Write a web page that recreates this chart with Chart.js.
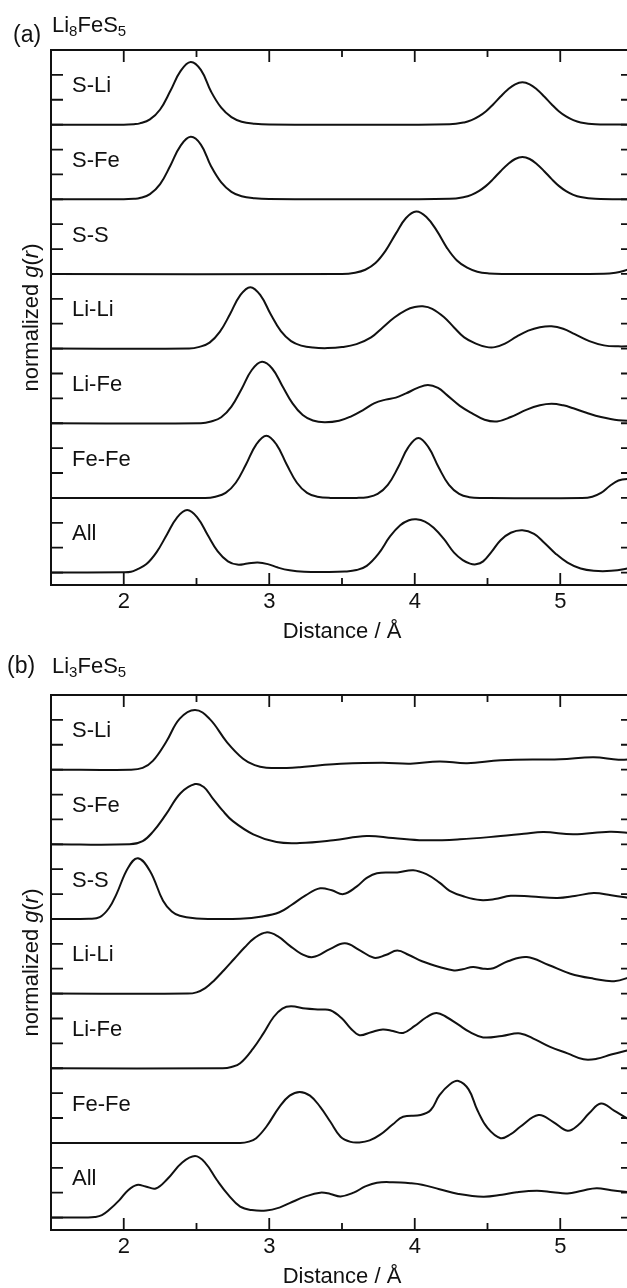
<!DOCTYPE html>
<html>
<head>
<meta charset="utf-8">
<script src="https://cdn.jsdelivr.net/npm/chart.js@4.4.1/dist/chart.umd.min.js"></script>
<style>
  html, body { margin: 0; padding: 0; background: #fff; overflow: hidden; }
  #wrap { position: relative; width: 627px; height: 1288px; overflow: hidden; }
  canvas { position: absolute; left: 0; }
  #chartA { top: 0; }
  #chartB { top: 645px; }
</style>
</head>
<body>
<div id="wrap">
  <canvas id="chartA" width="634" height="645"></canvas>
  <canvas id="chartB" width="634" height="645"></canvas>
</div>
<script>
const FONT = "'Liberation Sans', Arial, Helvetica, sans-serif";
const INK = "#111";

const pairNames = ["S-Li", "S-Fe", "S-S", "Li-Li", "Li-Fe", "Fe-Fe", "All"];
const offsets = [18, 15, 12, 9, 6, 3, 0];
const xTicks = [2, 3, 4, 5];
const xMinorTicks = [2.5, 3.5, 4.5];
const yTicks = [0, 1, 2, 3, 4, 5, 6, 7, 8, 9, 10, 11, 12, 13, 14, 15, 16, 17, 18, 19, 20];

/* (a) Li8FeS5 : [r, g(r)], each relative to its own baseline */
const aSLi = [[1.5,0],[2.0,0],[2.07,0.02],[2.11,0.05],[2.18,0.21],[2.25,0.61],[2.32,1.35],[2.39,2.15],[2.46,2.52],[2.53,2.2],[2.6,1.33],[2.67,0.68],[2.74,0.3],[2.81,0.12],[2.9,0.04],[3.0,0.01],[3.5,0],[4.24,0.02],[4.34,0.09],[4.39,0.18],[4.44,0.33],[4.49,0.54],[4.54,0.82],[4.59,1.13],[4.64,1.41],[4.69,1.62],[4.74,1.7],[4.79,1.62],[4.84,1.41],[4.89,1.13],[4.94,0.82],[4.99,0.54],[5.04,0.33],[5.09,0.18],[5.14,0.09],[5.24,0.02],[5.5,0]];
const aSFe = [[1.5,0],[2.0,0],[2.07,0.02],[2.11,0.05],[2.18,0.21],[2.25,0.61],[2.32,1.35],[2.39,2.15],[2.46,2.51],[2.53,2.2],[2.6,1.33],[2.67,0.68],[2.74,0.3],[2.81,0.12],[2.9,0.04],[3.0,0.01],[3.5,0],[4.24,0.02],[4.34,0.09],[4.39,0.18],[4.44,0.33],[4.49,0.54],[4.54,0.82],[4.59,1.13],[4.64,1.41],[4.69,1.62],[4.74,1.7],[4.79,1.62],[4.84,1.41],[4.89,1.13],[4.94,0.82],[4.99,0.54],[5.04,0.33],[5.09,0.18],[5.14,0.09],[5.24,0.02],[5.5,0]];
const aSS = [[1.5,0],[3.5,0],[3.59,0.05],[3.66,0.17],[3.73,0.44],[3.8,0.94],[3.87,1.62],[3.94,2.25],[4.01,2.51],[4.08,2.29],[4.15,1.75],[4.22,1.06],[4.29,0.54],[4.36,0.25],[4.43,0.09],[4.51,0.02],[4.6,0],[5.3,0.01],[5.38,0.05],[5.44,0.13],[5.5,0.25]];
const aLiLi = [[1.5,0],[2.45,0],[2.52,0.07],[2.59,0.24],[2.66,0.67],[2.73,1.38],[2.8,2.14],[2.87,2.47],[2.94,2.14],[3.01,1.38],[3.08,0.7],[3.15,0.3],[3.22,0.12],[3.3,0.04],[3.4,0.02],[3.5,0.06],[3.6,0.18],[3.7,0.45],[3.78,0.85],[3.86,1.25],[3.94,1.55],[4.0,1.67],[4.055,1.7],[4.12,1.6],[4.2,1.27],[4.27,0.85],[4.34,0.45],[4.42,0.2],[4.49,0.07],[4.55,0.06],[4.62,0.2],[4.7,0.48],[4.78,0.72],[4.86,0.86],[4.94,0.9],[5.02,0.8],[5.1,0.58],[5.2,0.3],[5.3,0.13],[5.4,0.09],[5.5,0.1]];
const aLiFe = [[1.5,0],[2.53,0],[2.6,0.07],[2.67,0.24],[2.74,0.67],[2.81,1.38],[2.88,2.14],[2.95,2.47],[3.02,2.2],[3.09,1.5],[3.16,0.8],[3.23,0.33],[3.3,0.11],[3.38,0.04],[3.48,0.1],[3.56,0.27],[3.65,0.55],[3.72,0.8],[3.8,0.95],[3.87,1.03],[3.94,1.2],[4.02,1.42],[4.09,1.54],[4.16,1.42],[4.22,1.14],[4.31,0.7],[4.4,0.38],[4.48,0.14],[4.565,0.07],[4.66,0.25],[4.77,0.55],[4.86,0.72],[4.94,0.78],[5.02,0.72],[5.09,0.6],[5.18,0.42],[5.28,0.25],[5.4,0.12],[5.5,0.1]];
const aFeFe = [[1.5,0],[2.56,0],[2.63,0.05],[2.7,0.2],[2.77,0.61],[2.84,1.34],[2.91,2.14],[2.98,2.5],[3.05,2.14],[3.12,1.34],[3.19,0.61],[3.26,0.2],[3.33,0.05],[3.42,0],[3.6,0],[3.675,0.03],[3.745,0.16],[3.815,0.52],[3.885,1.22],[3.955,2.03],[4.025,2.41],[4.095,2.03],[4.165,1.22],[4.235,0.52],[4.305,0.16],[4.375,0.03],[4.46,0],[5.15,0],[5.22,0.05],[5.28,0.2],[5.34,0.48],[5.4,0.7],[5.46,0.76],[5.5,0.72]];
const aAll = [[1.5,0],[2.0,0.01],[2.05,0.03],[2.086,0.11],[2.156,0.34],[2.226,0.82],[2.296,1.52],[2.366,2.21],[2.436,2.51],[2.506,2.21],[2.576,1.52],[2.646,0.85],[2.716,0.45],[2.78,0.32],[2.85,0.36],[2.92,0.4],[2.99,0.34],[3.06,0.2],[3.14,0.09],[3.24,0.03],[3.4,0.02],[3.52,0.04],[3.6,0.1],[3.67,0.27],[3.75,0.75],[3.83,1.45],[3.9,1.9],[3.96,2.1],[4.01,2.14],[4.07,2.05],[4.13,1.8],[4.2,1.35],[4.27,0.8],[4.33,0.5],[4.38,0.36],[4.42,0.33],[4.47,0.45],[4.53,0.85],[4.59,1.3],[4.66,1.6],[4.74,1.7],[4.82,1.55],[4.89,1.2],[4.97,0.75],[5.05,0.4],[5.14,0.16],[5.23,0.07],[5.35,0.07],[5.5,0.2]];

/* (b) Li3FeS5 */
const bSLi = [[1.5,0],[2.04,0],[2.13,0.07],[2.2,0.35],[2.29,1.1],[2.385,2.05],[2.49,2.4],[2.59,2.04],[2.71,1.1],[2.82,0.44],[2.9,0.18],[2.98,0.08],[3.12,0.07],[3.21,0.1],[3.35,0.18],[3.49,0.24],[3.78,0.28],[3.97,0.24],[4.17,0.33],[4.36,0.26],[4.59,0.38],[5.0,0.42],[5.23,0.5],[5.4,0.4],[5.5,0.42]];
const bSFe = [[1.5,0],[2.04,0],[2.13,0.13],[2.2,0.5],[2.29,1.2],[2.39,2.05],[2.49,2.42],[2.55,2.3],[2.61,1.86],[2.68,1.35],[2.75,0.93],[2.89,0.4],[3.05,0.09],[3.21,0.05],[3.44,0.16],[3.67,0.33],[3.85,0.25],[4.06,0.16],[4.31,0.2],[4.59,0.33],[4.75,0.42],[4.886,0.49],[5.09,0.4],[5.34,0.5],[5.5,0.45]];
const bSS = [[1.5,0],[1.76,0.01],[1.835,0.07],[1.9,0.45],[1.95,1.0],[2.03,2.06],[2.098,2.44],[2.18,1.93],[2.27,0.73],[2.33,0.3],[2.385,0.13],[2.5,0.02],[2.6,0],[2.8,0.01],[2.95,0.1],[3.07,0.27],[3.15,0.55],[3.25,0.95],[3.35,1.23],[3.43,1.15],[3.51,1.0],[3.6,1.3],[3.67,1.65],[3.74,1.84],[3.88,1.87],[3.99,1.96],[4.08,1.8],[4.17,1.46],[4.24,1.13],[4.34,0.9],[4.45,0.76],[4.55,0.8],[4.66,0.93],[4.8,0.9],[4.98,0.84],[5.1,0.92],[5.23,1.04],[5.35,0.95],[5.5,0.82]];
const bLiLi = [[1.5,0],[2.44,0],[2.5,0.05],[2.56,0.22],[2.62,0.52],[2.69,0.95],[2.76,1.4],[2.83,1.85],[2.9,2.24],[2.98,2.46],[3.06,2.3],[3.14,1.93],[3.22,1.6],[3.3,1.47],[3.42,1.8],[3.52,2.02],[3.62,1.75],[3.72,1.44],[3.8,1.55],[3.88,1.73],[3.96,1.55],[4.05,1.3],[4.17,1.07],[4.27,0.93],[4.33,0.98],[4.4,1.07],[4.47,1.0],[4.54,1.02],[4.64,1.3],[4.77,1.47],[4.92,1.15],[5.07,0.8],[5.23,0.6],[5.37,0.5],[5.5,0.7]];
const bLiFe = [[1.5,0],[2.68,0],[2.74,0.05],[2.8,0.2],[2.89,0.8],[2.96,1.4],[3.03,2.06],[3.09,2.4],[3.15,2.49],[3.25,2.4],[3.35,2.36],[3.42,2.33],[3.5,2.0],[3.56,1.6],[3.62,1.33],[3.7,1.45],[3.78,1.56],[3.85,1.5],[3.92,1.42],[4.0,1.7],[4.08,2.05],[4.15,2.22],[4.22,2.05],[4.3,1.75],[4.38,1.45],[4.47,1.24],[4.6,1.3],[4.725,1.4],[4.83,1.15],[4.93,0.86],[5.05,0.6],[5.16,0.36],[5.25,0.38],[5.35,0.55],[5.5,0.78]];
const bFeFe = [[1.5,0],[2.8,0],[2.86,0.05],[2.91,0.19],[2.98,0.65],[3.07,1.45],[3.14,1.9],[3.21,2.05],[3.28,1.9],[3.35,1.45],[3.42,0.85],[3.49,0.25],[3.56,0.04],[3.62,0.02],[3.69,0.1],[3.76,0.32],[3.85,0.75],[3.92,1.05],[4.04,1.12],[4.11,1.32],[4.17,1.92],[4.24,2.35],[4.3,2.49],[4.37,2.15],[4.43,1.32],[4.5,0.6],[4.59,0.19],[4.66,0.35],[4.725,0.65],[4.85,1.12],[4.95,0.85],[5.05,0.49],[5.12,0.7],[5.2,1.2],[5.28,1.58],[5.37,1.3],[5.46,0.99],[5.5,0.9]];
const bAll = [[1.5,0],[1.75,0],[1.8,0.02],[1.85,0.1],[1.9,0.31],[1.97,0.7],[2.03,1.1],[2.09,1.31],[2.15,1.25],[2.22,1.17],[2.3,1.55],[2.4,2.2],[2.49,2.47],[2.56,2.2],[2.64,1.51],[2.72,0.9],[2.8,0.44],[2.88,0.3],[2.98,0.28],[3.07,0.4],[3.14,0.58],[3.25,0.85],[3.35,1.0],[3.42,0.95],[3.49,0.85],[3.58,1.0],[3.66,1.25],[3.74,1.4],[3.85,1.42],[3.97,1.38],[4.05,1.32],[4.17,1.14],[4.3,0.95],[4.47,0.84],[4.6,0.92],[4.7,1.02],[4.84,1.08],[4.95,1.02],[5.05,0.97],[5.15,1.08],[5.25,1.18],[5.35,1.1],[5.5,1.0]];

const curvesA = [aSLi, aSFe, aSS, aLiLi, aLiFe, aFeFe, aAll];
const curvesB = [bSLi, bSFe, bSS, bLiLi, bLiFe, bFeFe, bAll];

/* frame, inward ticks, curve names, panel tag and y title */
const panelDecor = {
    id: "panelDecor",
    afterDatasetsDraw(chart, args, opts) {
        const { ctx, chartArea: a, scales: { x, y } } = chart;
        ctx.save();
        ctx.strokeStyle = INK;
        ctx.lineWidth = 2;
        ctx.strokeRect(a.left, a.top, a.right - a.left, a.bottom - a.top);

        ctx.lineWidth = 1.8;
        ctx.beginPath();
        const xTick = (v, len) => {
            const px = x.getPixelForValue(v);
            ctx.moveTo(px, a.bottom); ctx.lineTo(px, a.bottom - len);
            ctx.moveTo(px, a.top); ctx.lineTo(px, a.top + len);
        };
        xTicks.forEach(v => xTick(v, 12));
        xMinorTicks.forEach(v => xTick(v, 7));
        yTicks.forEach(v => {
            const py = y.getPixelForValue(v);
            ctx.moveTo(a.left, py); ctx.lineTo(a.left + 12, py);
            ctx.moveTo(a.right, py); ctx.lineTo(a.right - 12, py);
        });
        ctx.stroke();

        ctx.fillStyle = INK;
        ctx.textAlign = "left";
        ctx.textBaseline = "alphabetic";
        ctx.font = `22px ${FONT}`;
        pairNames.forEach((name, i) => {
            ctx.fillText(name, 72, y.getPixelForValue(offsets[i] + 1.3));
        });

        // panel letter and formula with subscripts
        ctx.font = `23px ${FONT}`;
        ctx.fillText(opts.tag, opts.tagX, opts.tagY);
        let fx = 52;
        opts.formula.forEach(([t, sub]) => {
            ctx.font = sub ? `15px ${FONT}` : `22px ${FONT}`;
            ctx.fillText(t, fx, opts.formulaY + (sub ? 4 : 0));
            fx += ctx.measureText(t).width;
        });

        // rotated y title with italic g and r
        const parts = [["normalized ", false], ["g", true], ["(", false], ["r", true], [")", false]];
        ctx.translate(38, (a.top + a.bottom) / 2);
        ctx.rotate(-Math.PI / 2);
        let total = 0;
        parts.forEach(([t, it]) => {
            ctx.font = `${it ? "italic " : ""}22px ${FONT}`;
            total += ctx.measureText(t).width;
        });
        let tx = -total / 2;
        parts.forEach(([t, it]) => {
            ctx.font = `${it ? "italic " : ""}22px ${FONT}`;
            ctx.fillText(t, tx, 0);
            tx += ctx.measureText(t).width;
        });
        ctx.restore();
    }
};

function drawPanel(canvasId, curves, decor) {
    const ctx = document.getElementById(canvasId).getContext("2d");
    return new Chart(ctx, {
        type: "line",
        data: {
            datasets: curves.map((pts, i) => ({
                label: pairNames[i],
                data: pts.map(([r, g]) => ({ x: r, y: g + offsets[i] })),
                borderColor: INK,
                borderWidth: 2,
                pointRadius: 0,
                tension: 0.4,
                fill: false
            }))
        },
        options: {
            responsive: false,
            animation: false,
            events: [],
            layout: { padding: { top: 50, left: 51, right: 1, bottom: 0 } },
            plugins: {
                legend: { display: false },
                tooltip: { enabled: false },
                panelDecor: decor
            },
            scales: {
                x: {
                    type: "linear",
                    min: 1.5,
                    max: 5.5,
                    afterBuildTicks: s => { s.ticks = xTicks.map(v => ({ value: v })); },
                    afterFit: s => { s.height = 60; },
                    grid: { display: false, drawTicks: false },
                    border: { display: false },
                    ticks: { color: INK, font: { family: FONT, size: 22 }, padding: 4, maxRotation: 0, autoSkip: false },
                    title: { display: true, text: "Distance / Å", color: INK, font: { family: FONT, size: 22 }, padding: { top: 0, bottom: 0 } }
                },
                y: {
                    type: "linear",
                    min: -0.5,
                    max: 21,
                    display: false,
                    afterBuildTicks: s => { s.ticks = yTicks.map(v => ({ value: v })); }
                }
            }
        },
        plugins: [panelDecor]
    });
}

drawPanel("chartA", curvesA, {
    tag: "(a)", tagX: 13, tagY: 42, formulaY: 32,
    formula: [["Li", false], ["8", true], ["FeS", false], ["5", true]]
});
drawPanel("chartB", curvesB, {
    tag: "(b)", tagX: 7, tagY: 28, formulaY: 28,
    formula: [["Li", false], ["3", true], ["FeS", false], ["5", true]]
});
</script>
</body>
</html>
